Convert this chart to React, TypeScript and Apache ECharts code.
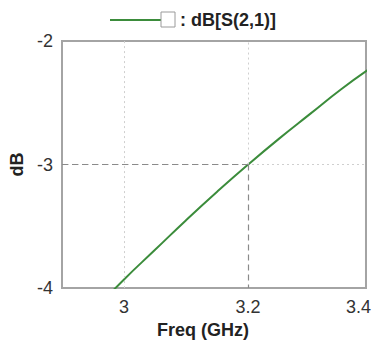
import React, { useEffect, useRef } from "react";
import * as echarts from "echarts";

// Data
const freqGHz = [2.95, 3.0, 3.05, 3.1, 3.15, 3.2, 3.25, 3.3, 3.35, 3.4];
const s21dB = [-4.19, -3.93, -3.69, -3.45, -3.22, -3.0, -2.79, -2.59, -2.39, -2.21];
const xTickValues = [3, 3.2, 3.39];
const xTickLabels = ["3", "3.2", "3.4"];
const markerFreq = [3.2];
const markerDb = [-3];
const seriesName = ": dB[S(2,1)]";

const FONT = "'Liberation Sans', Arial, sans-serif";
const GREEN = "#3b8c3b";

export default function App() {
  const ref = useRef<HTMLDivElement>(null);
  useEffect(() => {
    if (!ref.current) return;
    const chart = echarts.init(ref.current, null, { renderer: "svg" });
    const mf = markerFreq[0];
    const md = markerDb[0];
    const xMin = 2.9;
    const xMax = 3.39;
    const yMin = -4;
    const yMax = -2;
    const dark = { color: "#8a8a8a", type: [6, 4] as any, width: 1.2 };
    const light = { color: "#cfcfcf", type: [2, 3] as any, width: 1 };
    chart.setOption({
      animation: false,
      backgroundColor: "#ffffff",
      textStyle: { fontFamily: FONT },
      grid: {
        left: 58,
        right: 5,
        top: 41,
        bottom: 49,
        show: true,
        borderColor: "#a4a4a4",
        borderWidth: 2,
        backgroundColor: "transparent",
      },
      graphic: [
        {
          type: "line",
          shape: { x1: 110, y1: 20, x2: 161, y2: 20 },
          style: { stroke: GREEN, lineWidth: 2 },
        },
        {
          type: "rect",
          shape: { x: 161, y: 12, width: 14, height: 15 },
          style: { fill: "#ffffff", stroke: "#9a9a9a", lineWidth: 1 },
        },
        {
          type: "text",
          x: 180,
          y: 20,
          style: {
            text: seriesName,
            fontFamily: FONT,
            fontSize: 18,
            fontWeight: "bold",
            fill: "#222",
            verticalAlign: "middle",
            align: "left",
          },
        },
      ],
      xAxis: {
        type: "value",
        min: xMin,
        max: xMax,
        name: "Freq (GHz)",
        nameLocation: "middle",
        nameGap: 27,
        nameTextStyle: {
          fontFamily: FONT,
          fontSize: 18,
          fontWeight: "bold",
          color: "#222",
          padding: [0, 22, 0, 0],
        },
        axisLine: { show: false },
        axisTick: { show: false },
        splitLine: { show: false },
        axisLabel: {
          customValues: xTickValues,
          fontFamily: FONT,
          fontSize: 18,
          color: "#333",
          margin: 10,
          formatter: (v: number) => {
            const i = xTickValues.findIndex((t) => Math.abs(t - v) < 1e-6);
            const s = i >= 0 ? xTickLabels[i] : String(v);
            return i === xTickValues.length - 1 ? "{r|" + s + "}" : s;
          },
          rich: {
            r: { fontFamily: FONT, fontSize: 18, color: "#333", padding: [0, 15, 0, 0] },
          },
        },
      },
      yAxis: {
        type: "value",
        min: yMin,
        max: yMax,
        interval: 1,
        name: "dB",
        nameLocation: "middle",
        nameGap: 36,
        nameTextStyle: { fontFamily: FONT, fontSize: 18, fontWeight: "bold", color: "#222" },
        axisLine: { show: false },
        axisTick: { show: false },
        splitLine: { show: true, showMinLine: false, showMaxLine: false, lineStyle: light },
        axisLabel: { fontFamily: FONT, fontSize: 18, color: "#333", margin: 9 },
      },
      series: [
        {
          name: seriesName,
          type: "line",
          data: freqGHz.map((f, i) => [f, s21dB[i]]),
          showSymbol: false,
          smooth: true,
          clip: true,
          lineStyle: { color: GREEN, width: 2 },
          itemStyle: { color: GREEN },
          markLine: {
            silent: true,
            symbol: ["none", "none"],
            label: { show: false },
            data: [
              [
                { coord: [3, yMin], lineStyle: light },
                { coord: [3, yMax] },
              ],
              [
                { coord: [mf, md], lineStyle: light },
                { coord: [mf, yMax] },
              ],
              [
                { coord: [xMin, md], lineStyle: dark },
                { coord: [mf, md] },
              ],
              [
                { coord: [mf, md], lineStyle: dark },
                { coord: [mf, yMin] },
              ],
            ],
          },
        },
      ],
    });
    return () => chart.dispose();
  }, []);
  return (
    <div
      ref={ref}
      style={{ position: "absolute", left: 0, top: 0, width: 374, height: 344 }}
    />
  );
}
